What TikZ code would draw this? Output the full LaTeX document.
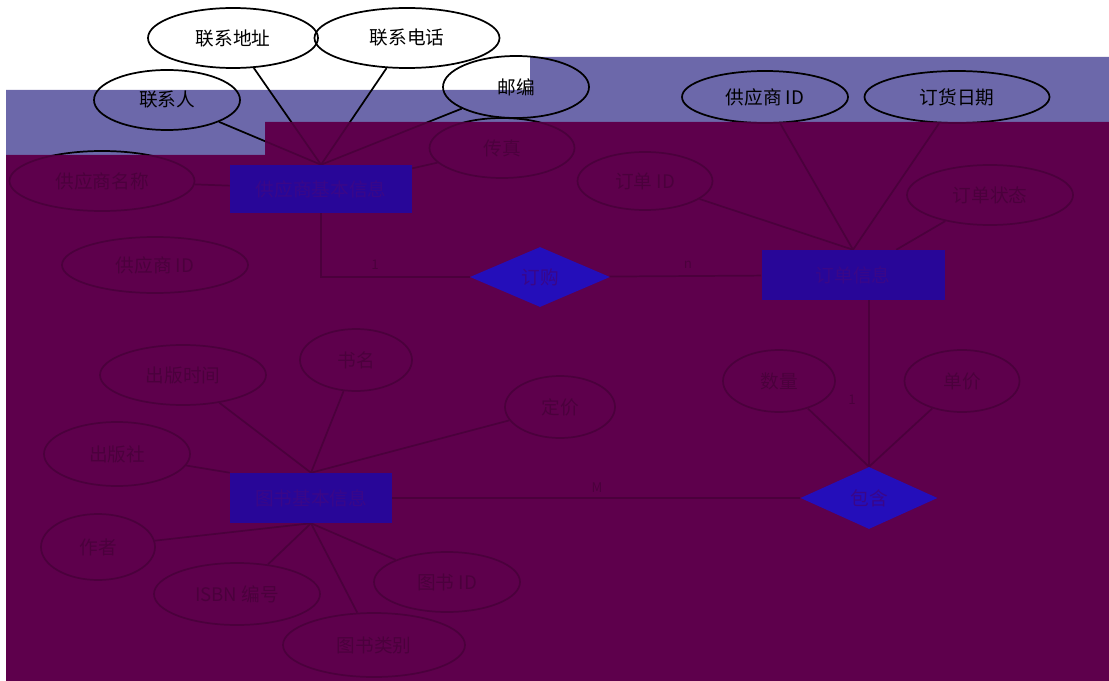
\documentclass[tikz,border=0pt]{standalone}
\usepackage{fontspec}
\usepackage{xcolor}
\usepackage{tikz}
\usetikzlibrary{shapes.geometric}
\newfontfamily\cjk{Noto Sans CJK SC}
\definecolor{lavender}{RGB}{108, 104, 170}
\definecolor{maroon}{RGB}{94, 0, 76}
\definecolor{entblue}{RGB}{40, 6, 152}
\definecolor{relblue}{RGB}{36, 14, 186}
\definecolor{inkblue}{RGB}{58, 6, 136}
\pgfdeclarelayer{back}
\pgfdeclarelayer{veil}
\pgfdeclarelayer{front}
\pgfsetlayers{back,main,veil,front}

\tikzset{
  attr/.style 2 args={ellipse, draw, line width=1.3pt, inner sep=0pt,
    minimum width=#1*0.75pt, minimum height=#2*0.75pt,
    font=\cjk\fontsize{14}{16}\selectfont},
  entity/.style 2 args={rectangle, fill=entblue, text=inkblue, inner sep=0pt,
    minimum width=#1*0.75pt, minimum height=#2*0.75pt,
    font=\cjk\fontsize{14}{16}\selectfont},
  relation/.style 2 args={diamond, aspect=2.2, fill=relblue, text=inkblue, inner sep=0pt,
    minimum width=#1*0.75pt, minimum height=#2*0.75pt,
    font=\cjk\fontsize{14}{16}\selectfont},
  link/.style={line width=1.3pt},
  card/.style={inner sep=0.75pt, font=\cjk\fontsize{10}{12}\selectfont}
}

\begin{document}
\begin{tikzpicture}[x=0.75pt,y=0.75pt,yscale=-1,xscale=1]
\useasboundingbox (0,0) rectangle (1109,681);

%Background bands
\begin{pgfonlayer}{back}
\fill [maroon] (6,155) -- (265,155) -- (265,122) -- (1109,122) -- (1109,681) -- (6,681) -- cycle;
\fill [lavender] (6,90) -- (530,90) -- (530,57) -- (1109,57) -- (1109,122) -- (265,122) -- (265,155) -- (6,155) -- cycle;
\end{pgfonlayer}

%Entities and relations
\begin{pgfonlayer}{front}
\node [entity={182}{48}] (sup) at (321,189) {供应商基本信息};
\node [entity={183}{50}] (ord) at (853,275) {订单信息};
\node [entity={162}{50}] (book) at (311,498) {图书基本信息};
\node [relation={140}{60}] (buy) at (540,277) {订购};
\node [relation={137}{62}] (inc) at (869,498) {包含};
\end{pgfonlayer}

%Shape: Ellipse -- supplier
\node [attr={146}{60}] (contact) at (167,100) {联系人};
\node [attr={170}{60}] (addr) at (233,38) {联系地址};
\node [attr={185}{60}] (tel) at (407,38) {联系电话};
\node [attr={146}{62}] (post) at (516,87) {邮编};
\node [attr={145}{60}] (fax) at (502,148) {传真};
\node [attr={185}{60}] (sname) at (102,181) {供应商名称};
\node [attr={186}{56}] (sid) at (155,265) {供应商 ID};
%Shape: Ellipse -- order
\node [attr={135}{58}] (oid) at (645,181) {订单 ID};
\node [attr={166}{52}] (osid) at (765,97) {供应商 ID};
\node [attr={185}{52}] (odate) at (957,97) {订货日期};
\node [attr={166}{60}] (ostate) at (990,195) {订单状态};
%Shape: Ellipse -- item
\node [attr={112}{62}] (qty) at (779,381) {数量};
\node [attr={115}{62}] (price) at (962,381) {单价};
%Shape: Ellipse -- book
\node [attr={166}{60}] (pubtime) at (183,375) {出版时间};
\node [attr={112}{62}] (title) at (356,360) {书名};
\node [attr={110}{62}] (listprice) at (560,407) {定价};
\node [attr={146}{64}] (press) at (117,454) {出版社};
\node [attr={114}{66}] (author) at (98,547) {作者};
\node [attr={166}{62}] (isbn) at (237,594) {ISBN 编号};
\node [attr={146}{60}] (bid) at (447,582) {图书 ID};
\node [attr={182}{64}] (cat) at (374,645) {图书类别};

%Straight Lines
\draw [link] (contact) -- (sup.north);
\draw [link] (addr) -- (sup.north);
\draw [link] (tel) -- (sup.north);
\draw [link] (post) -- (sup.north);
\draw [link] (fax) -- (sup);
\draw [link] (sname) -- (sup);
\draw [link] (osid) -- (ord.north);
\draw [link] (odate) -- (ord.north);
\draw [link] (oid) -- (ord.north);
\draw [link] (ostate) -- (ord);
\draw [link] (qty) -- (inc.north);
\draw [link] (price) -- (inc.north);
\draw [link] (pubtime) -- (book.north);
\draw [link] (title) -- (book.north);
\draw [link] (listprice) -- (book.north);
\draw [link] (press) -- (book.north west);
\draw [link] (author) -- (book.south);
\draw [link] (isbn) -- (book.south);
\draw [link] (bid) -- (book.south);
\draw [link] (cat) -- (book.south);
%Relation lines
\draw [link] (sup.south) |- (buy.west);
\draw [link] (buy) -- (ord);
\draw [link] (ord.south -| inc.north) -- (inc.north);
\draw [link] (inc) -- (book);

% Text Node
\node [card] (c1) at (375,265) {1};
\node [card] (c2) at (688,265) {n};
\node [card] (c3) at (852,400) {1};
\node [card] (c4) at (597,488) {M};

%Veil over the lower band
\begin{pgfonlayer}{veil}
\fill [maroon, opacity=0.8] (6,155) -- (265,155) -- (265,122) -- (1109,122) -- (1109,681) -- (6,681) -- cycle;
\end{pgfonlayer}

\end{tikzpicture}
\end{document}
